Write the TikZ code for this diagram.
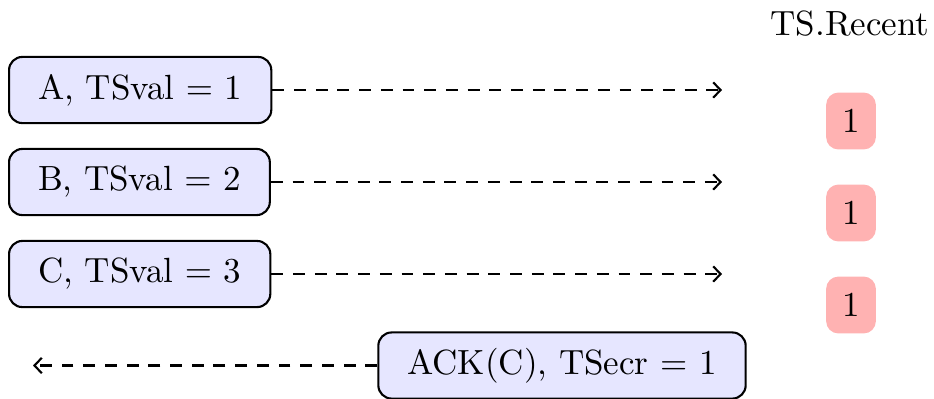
\documentclass[tikz,border=0pt]{standalone}
\usetikzlibrary{arrows.meta}
\definecolor{boxblue}{RGB}{230,230,255}
\definecolor{boxred}{RGB}{255,178,178}
\tikzset{
  msgbox/.style={draw, line width=0.6pt, fill=boxblue, rounded corners=3.8pt,
    inner xsep=8.3pt, inner ysep=0pt, minimum height=18.9pt},
  tsbox/.style={fill=boxred, rounded corners=3.5pt, inner xsep=4.6pt, inner ysep=4.8pt},
  msgarrow/.style={dash pattern=on 3.4pt off 2.8pt, line width=0.6pt, -{Straight Barb[length=2.1pt,width=4.4pt]}},
}
\begin{document}
\begin{tikzpicture}[x=0.2857pt, y=-0.2857pt]
\useasboundingbox (0,0) rectangle (934,398);
\node[anchor=west, msgbox] (A) at (8,90) {A, TSval $=$ 1};
\node[anchor=west, msgbox] (B) at (8,182) {B, TSval $=$ 2};
\node[anchor=west, msgbox] (C) at (8,274) {C, TSval $=$ 3};
\node[msgbox] (ack) at (562,365.5) {ACK(C), TSecr $=$ 1};
\node (title) at (850,24) {TS.Recent};
\node[tsbox] (r1) at (851,121) {1};
\node[tsbox] (r2) at (851,213) {1};
\node[tsbox] (r3) at (851,305) {1};
\coordinate (ea) at (722,90);
\coordinate (eb) at (722,182);
\coordinate (ec) at (722,274);
\coordinate (eack) at (33,365.5);
\draw[msgarrow] (A) -- (ea);
\draw[msgarrow] (B) -- (eb);
\draw[msgarrow] (C) -- (ec);
\draw[msgarrow] (ack) -- (eack);
\end{tikzpicture}
\end{document}
